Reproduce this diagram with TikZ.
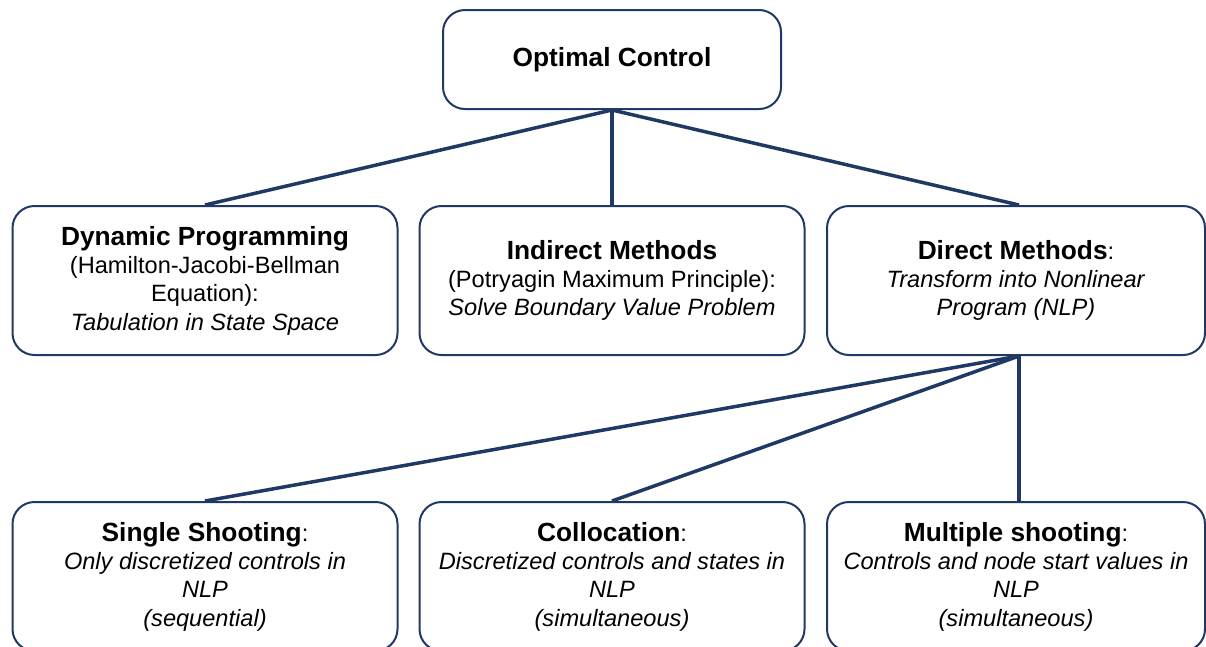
\documentclass[tikz,border=0pt]{standalone}
\usepackage{fontspec}
\setmainfont{Liberation Sans}
\definecolor{navy}{HTML}{1F3864}
\newcommand{\hd}[1]{{\bfseries\fontsize{26.3}{29}\selectfont #1}}
\begin{document}
\begin{tikzpicture}[x=1pt,y=-1pt,
  box/.style={draw=navy, line width=2pt, rounded corners=22pt,
    minimum width=385pt, minimum height=149pt, align=center,
    font=\fontsize{23.6}{28.3}\selectfont, inner sep=0pt},
  link/.style={draw=navy, line width=3.5pt}]
\useasboundingbox (0,0) rectangle (1206,646);
\clip (0,0) rectangle (1206,646);
\node[box, minimum width=338pt, minimum height=99pt] (oc) at (612,59.5) {\hd{Optimal Control}};
\node[box] (dp) at (205,280.5) {\hd{Dynamic Programming}\\(Hamilton-Jacobi-Bellman\\Equation):\\\textit{Tabulation in State Space}};
\node[box] (im) at (612,280.5) {\hd{Indirect Methods}\\(Potryagin Maximum Principle):\\\textit{Solve Boundary Value Problem}};
\node[box, minimum width=378pt] (dm) at (1016,280.5) {\hd{Direct Methods}:\\\textit{Transform into Nonlinear}\\\textit{Program (NLP)}};
\node[box] (ss) at (205,576.5) {\hd{Single Shooting}:\\\textit{Only discretized controls in}\\\textit{NLP}\\\textit{(sequential)}};
\node[box] (co) at (612,576.5) {\hd{Collocation}:\\\textit{Discretized controls and states in}\\\textit{NLP}\\\textit{(simultaneous)}};
\node[box, minimum width=378pt] (ms) at (1016,576.5) {\hd{Multiple shooting}:\\\textit{Controls and node start values in}\\\textit{NLP}\\\textit{(simultaneous)}};
\draw[link] (oc.south) -- (dp.north);
\draw[link] (oc.south) -- (im.north);
\draw[link] (oc.south) -- ([xshift=3pt]dm.north);
\draw[link] ([xshift=3pt]dm.south) -- (ss.north);
\draw[link] ([xshift=3pt]dm.south) -- (co.north);
\draw[link] ([xshift=3pt]dm.south) -- ([xshift=3pt]ms.north);
\end{tikzpicture}
\end{document}
